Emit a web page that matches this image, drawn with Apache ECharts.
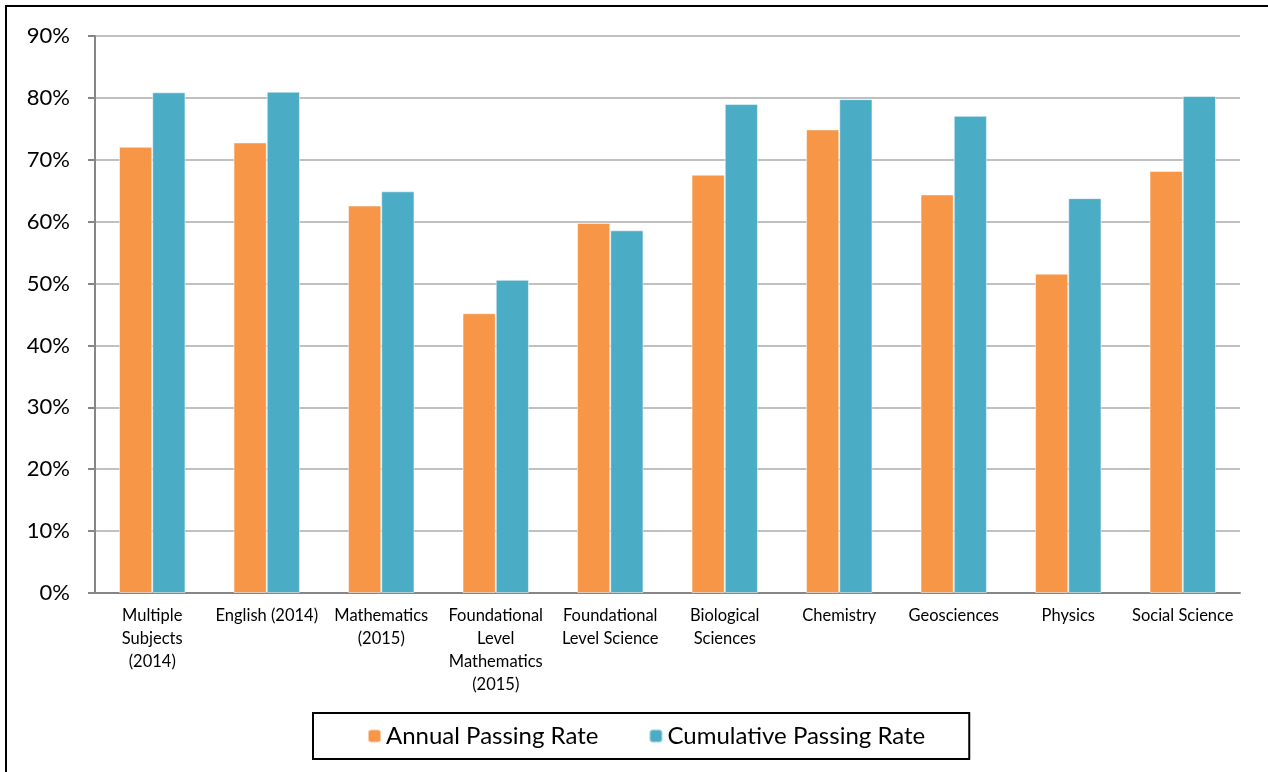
<!DOCTYPE html>
<html>
<head>
    <meta charset="utf-8">
    <title>Passing Rates</title>
    <script src="https://cdn.jsdelivr.net/npm/echarts@6/dist/echarts.min.js"></script>
    <style>
        html, body { margin: 0; padding: 0; background: #fff; }
    </style>
</head>
<body>
    <div id="main" style="width:1268px;height:772px;"></div>
    <script type="text/javascript">
        // categories (line breaks as in the original axis)
        var categories = [
            'Multiple\nSubjects\n(2014)',
            'English (2014)',
            'Mathematics\n(2015)',
            'Foundational\nLevel\nMathematics\n(2015)',
            'Foundational\nLevel Science',
            'Biological\nSciences',
            'Chemistry',
            'Geosciences',
            'Physics',
            'Social Science'
        ];
        // values in percent
        var annualRate = [72.1, 72.8, 62.6, 45.2, 59.8, 67.6, 74.9, 64.4, 51.6, 68.2];
        var cumulativeRate = [80.9, 81.0, 64.9, 50.6, 58.6, 79.0, 79.8, 77.1, 63.8, 80.3];
        var yTicks = [0, 10, 20, 30, 40, 50, 60, 70, 80, 90];

        var myChart = echarts.init(document.getElementById('main'));
        var fontFam = 'Lato, "Open Sans", sans-serif';

        myChart.setOption({
            animation: false,
            textStyle: { fontFamily: fontFam },
            graphic: [{
                type: 'rect',
                shape: { x: 6, y: 6, width: 1300, height: 820 },
                style: { fill: 'none', stroke: '#000', lineWidth: 2 },
                silent: true
            }],
            grid: { left: 95, right: 28, top: 36, bottom: 179 },
            legend: {
                bottom: 13,
                left: 313,
                itemWidth: 13,
                itemHeight: 13,
                itemGap: 50,
                borderColor: '#000',
                borderWidth: 2,
                padding: [11, 44, 11, 54],
                textStyle: { fontSize: 24, color: '#000', fontFamily: fontFam },
                data: ['Annual Passing Rate', 'Cumulative Passing Rate']
            },
            xAxis: {
                type: 'category',
                data: categories,
                axisLine: { lineStyle: { color: '#868686', width: 2 } },
                axisTick: { length: 6, lineStyle: { color: '#868686', width: 2 } },
                axisLabel: {
                    interval: 0,
                    fontSize: 16.5,
                    lineHeight: 23,
                    color: '#000',
                    margin: 11,
                    fontFamily: fontFam
                }
            },
            yAxis: {
                type: 'value',
                min: yTicks[0],
                max: yTicks[yTicks.length - 1],
                interval: 10,
                axisLine: { show: true, lineStyle: { color: '#868686', width: 2 } },
                axisTick: { show: true, length: 7, lineStyle: { color: '#868686', width: 2 } },
                axisLabel: {
                    formatter: '{value}%',
                    fontSize: 22,
                    color: '#000',
                    margin: 25,
                    fontFamily: fontFam
                },
                splitLine: { lineStyle: { color: '#c0c0c0', width: 2 } }
            },
            series: [
                {
                    name: 'Annual Passing Rate',
                    type: 'bar',
                    data: annualRate,
                    barGap: '0%',
                    barCategoryGap: '42%',
                    itemStyle: { color: '#F79646', borderColor: 'rgba(255,255,255,0.5)', borderWidth: 1 }
                },
                {
                    name: 'Cumulative Passing Rate',
                    type: 'bar',
                    data: cumulativeRate,
                    barGap: '0%',
                    barCategoryGap: '42%',
                    itemStyle: { color: '#4BACC6', borderColor: 'rgba(255,255,255,0.5)', borderWidth: 1 }
                }
            ]
        });
    </script>
</body>
</html>
